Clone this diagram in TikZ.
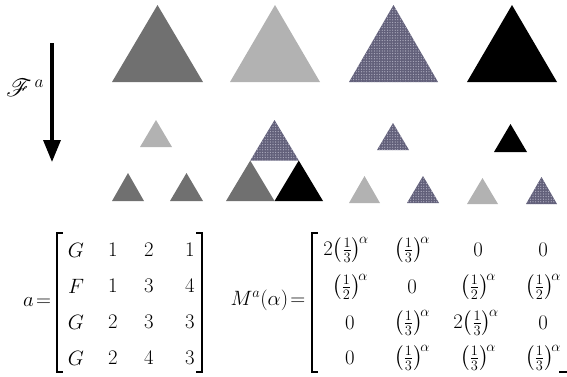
\documentclass[tikz,border=0pt]{standalone}
\usepackage{amsmath}
\usepackage{mathrsfs}
\usepackage{tikz}
\usepackage{xcolor}
\usetikzlibrary{arrows.meta,patterns.meta}

\definecolor{dgray}{RGB}{112,112,112}
\definecolor{lgray}{RGB}{178,178,178}
\definecolor{hatchbg}{RGB}{98,96,122}
\definecolor{hatchdot}{RGB}{175,174,192}
\tikzdeclarepattern{
  name=finedots,
  type=uncolored,
  bounding box={(-1.3pt,-1.3pt) and (1.3pt,1.3pt)},
  tile size={(2.6pt,2.6pt)},
  code={\pgfpathcircle{\pgfpointorigin}{0.65pt}\pgfusepath{fill}}}
\newcommand{\thirda}{\bigl(\tfrac{1}{3}\bigr)^{\!\alpha}}
\newcommand{\halfa}{\bigl(\tfrac{1}{2}\bigr)^{\!\alpha}}

\begin{document}
\begin{tikzpicture}[x=1pt,y=-1pt,every node/.style={font=\fontsize{22}{26}\selectfont,inner sep=1pt},
  darktri/.style={fill=dgray},
  lighttri/.style={fill=lgray},
  blacktri/.style={fill=black},
  hatchtri/.style={fill=hatchbg,postaction={pattern=finedots,pattern color=hatchdot}},
  brack/.style={line width=1.1pt,line cap=rect},
  mentry/.style={inner sep=0pt,font=\fontsize{20}{24}\selectfont}]
\useasboundingbox (0,0) rectangle (567,376);
% big triangles
\fill[darktri] (112,82) -- (157.5,5) -- (203,82) -- cycle;
\fill[lighttri] (230,82) -- (275,5) -- (320,82) -- cycle;
\fill[hatchtri] (349,82) -- (393.5,5) -- (438,82) -- cycle;
\fill[blacktri] (467,82) -- (512,5) -- (557,82) -- cycle;
% first group
\fill[lighttri] (140,147) -- (156,120) -- (172,147) -- cycle;
\fill[darktri] (112,201) -- (128,173) -- (144,201) -- cycle;
\fill[darktri] (170,201) -- (186.5,173) -- (203,201) -- cycle;
% second group
\fill[hatchtri] (250.25,160.5) -- (274.5,120) -- (298.75,160.5) -- cycle;
\fill[darktri] (226,201) -- (250.25,160.5) -- (274.5,201) -- cycle;
\fill[blacktri] (274.5,201) -- (298.75,160.5) -- (323,201) -- cycle;
% third group
\fill[hatchtri] (377,150) -- (393,123) -- (409,150) -- cycle;
\fill[lighttri] (349,203) -- (364.5,176) -- (380,203) -- cycle;
\fill[hatchtri] (407,203) -- (423,176) -- (439,203) -- cycle;
% fourth group
\fill[blacktri] (494,152) -- (510.5,124) -- (527,152) -- cycle;
\fill[lighttri] (467,204) -- (482.5,178) -- (498,204) -- cycle;
\fill[hatchtri] (526,204) -- (541.5,177) -- (557,204) -- cycle;
% arrow
\coordinate (arrtop) at (52,43);
\coordinate (arrtip) at (52,162);
\draw[line width=3.4pt,-{Triangle[width=17pt,length=22pt]}] (arrtop) -- (arrtip);
\node (Fa) at (25,88) {\fontsize{27}{30}\selectfont$\mathscr{F}^{\,a}$};
% matrix a
\node (aeq) at (37,302) {$a\!=$};
\draw[brack] (62,233) -- (57,233) -- (57,372) -- (62,372);
\draw[brack] (197,233) -- (202,233) -- (202,372) -- (197,372);
\foreach \e/\x [count=\c] in {G/76,1/113,2/149,1/190}
  \node (a1\c) at (\x,250) {$\e$};
\foreach \e/\x [count=\c] in {F/76,1/113,3/149,4/190}
  \node (a2\c) at (\x,286) {$\e$};
\foreach \e/\x [count=\c] in {G/76,2/113,3/149,3/190}
  \node (a3\c) at (\x,322) {$\e$};
\foreach \e/\x [count=\c] in {G/76,2/113,4/149,3/190}
  \node (a4\c) at (\x,358) {$\e$};
% matrix M
\node (Meq) at (268,300) {$M^{a}(\alpha)\!=$};
\draw[brack] (317,233) -- (312,233) -- (312,372) -- (317,372);
\draw[brack] (560,372) -- (567,372);
\foreach \e/\x [count=\c] in {2\thirda/346,\thirda/412,0/478,0/543}
  \node[mentry] (m1\c) at (\x,250) {$\e$};
\foreach \e/\x [count=\c] in {\halfa/350,0/412,\halfa/478,\halfa/543}
  \node[mentry] (m2\c) at (\x,287) {$\e$};
\foreach \e/\x [count=\c] in {0/350,\thirda/412,2\thirda/476,0/543}
  \node[mentry] (m3\c) at (\x,323) {$\e$};
\foreach \e/\x [count=\c] in {0/350,\thirda/412,\thirda/478,\thirda/543}
  \node[mentry] (m4\c) at (\x,358) {$\e$};
\end{tikzpicture}
\end{document}
